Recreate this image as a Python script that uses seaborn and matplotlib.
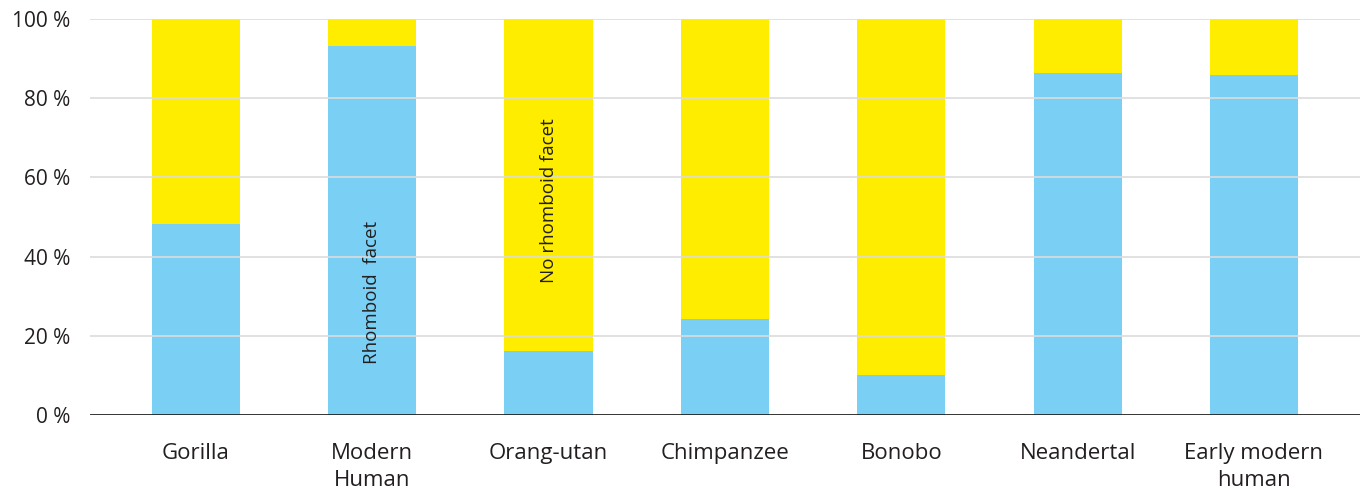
import matplotlib
matplotlib.use("Agg")
import matplotlib.pyplot as plt
import seaborn as sns
import pandas as pd

categories = ["Gorilla", "Modern\nHuman", "Orang-utan", "Chimpanzee", "Bonobo", "Neandertal", "Early modern\nhuman"]
rhomboid = [48.1, 93.2, 16.2, 24.3, 10.1, 86.3, 85.8]
no_rhomboid = [100 - v for v in rhomboid]
total = [r + n for r, n in zip(rhomboid, no_rhomboid)]
yticks = [0, 20, 40, 60, 80, 100]
ytick_labels = ["0 %", "20 %", "40 %", "60 %", "80 %", "100 %"]

sns.set_theme(style="white")
plt.rcParams['font.family'] = ['Open Sans', 'DejaVu Sans']

df = pd.DataFrame({"cat": categories, "rh": rhomboid, "tot": total})

fig = plt.figure(figsize=(13.68, 4.97), dpi=100)
ax = fig.add_axes([0.0658, 0.165, 0.9282, 0.797])

sns.barplot(data=df, x="cat", y="tot", color="#FFED00", saturation=1, width=0.5,
            linewidth=0, edgecolor="none", ax=ax, zorder=2)
sns.barplot(data=df, x="cat", y="rh", color="#7AD0F4", saturation=1, width=0.5,
            linewidth=0, edgecolor="none", ax=ax, zorder=2)

ax.set_xlim(-0.6, 6.6)
ax.set_ylim(0, 100)
ax.set_yticks(yticks)
ax.set_yticklabels(ytick_labels)
for y in yticks[1:]:
    ax.axhline(y, color="#dcdcdc", lw=1.2, zorder=3)
ax.axhline(0, color="#222222", lw=2, zorder=4)

for s in ["top", "right", "left", "bottom"]:
    ax.spines[s].set_visible(False)
ax.set_xlabel("")
ax.set_ylabel("")
ax.tick_params(axis="y", length=0, labelsize=15, colors="#231f20", pad=14)
ax.tick_params(axis="x", length=0, labelsize=16, colors="#231f20", pad=20)
for lbl in ax.get_xticklabels():
    lbl.set_linespacing(1.4)

ax.text(1, 31, "Rhomboid  facet", rotation=90, ha="center", va="center", fontsize=13.5, color="#231f20", zorder=5)
ax.text(2, 54, "No rhomboid facet", rotation=90, ha="center", va="center", fontsize=13.5, color="#231f20", zorder=5)

fig.savefig("out.png", dpi=100)
